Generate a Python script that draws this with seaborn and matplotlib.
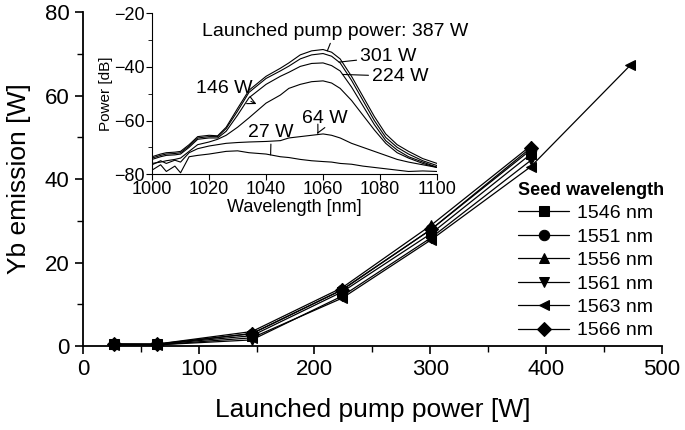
import numpy as np
import pandas as pd
import matplotlib
matplotlib.use("Agg")
import matplotlib.pyplot as plt
from matplotlib.ticker import MultipleLocator
import seaborn as sns

sns.set_style("ticks")
plt.rcParams["font.family"] = ["Liberation Sans", "DejaVu Sans"]
plt.rcParams.update({"text.color": "black", "axes.labelcolor": "black",
                     "xtick.color": "black", "ytick.color": "black",
                     "axes.edgecolor": "black"})

# main plot: Yb emission vs launched pump power, one series per seed wavelength
pump = [27, 64, 146, 224, 301, 387]
seeds = ["1546 nm", "1551 nm", "1556 nm", "1561 nm", "1563 nm", "1566 nm"]
markers = ["s", "o", "^", "v", "<", "D"]
yb_1546 = [0.4, 0.4, 2.5, 13.0, 27.0, 46.0]
yb_1551 = [0.5, 0.4, 3.0, 13.5, 28.0, 47.0]
yb_1556 = [0.5, 0.5, 3.5, 14.0, 29.0, 48.0]
yb_1561 = [0.3, 0.3, 1.5, 12.0, 26.0, 44.5]
yb_1563 = [0.3, 0.3, 2.0, 11.5, 25.5, 43.0]
yb_1566 = [0.5, 0.5, 3.0, 13.5, 28.0, 47.5]
extra_pump_1563 = 473
extra_yb_1563 = 67.3

# inset: spectra at several launched pump powers
wl = [1000, 1003, 1005, 1008, 1010, 1013, 1016, 1020, 1023, 1026, 1030, 1034, 1040, 1045, 1048,
      1052, 1056, 1060, 1063, 1066, 1070, 1074, 1078, 1082, 1086, 1090, 1095, 1100]
sp_387 = [-73.5, -72.5, -72.0, -71.8, -71.5, -69.0, -66.0, -65.5, -65.7, -62.5, -55.5, -48.7, -43.5, -40.5, -38.5,
          -35.5, -34.0, -33.5, -34.5, -37.0, -43.5, -51.0, -58.5, -65.0, -69.0, -71.5, -74.2, -76.0]
sp_301 = [-74.0, -73.0, -72.5, -72.3, -72.0, -69.5, -66.5, -66.0, -66.0, -63.0, -56.5, -49.5, -44.3, -41.5, -39.7,
          -37.0, -35.5, -35.0, -36.0, -38.5, -45.0, -52.5, -60.0, -66.3, -70.0, -72.5, -75.0, -76.8]
sp_224 = [-74.5, -73.5, -73.0, -72.8, -72.5, -70.0, -67.0, -66.5, -66.5, -64.0, -58.0, -51.5, -46.5, -43.5, -42.0,
          -39.8, -38.7, -38.5, -39.5, -41.5, -47.5, -54.5, -61.5, -67.5, -71.0, -73.5, -75.5, -77.4]
sp_146 = [-76.0, -75.5, -75.0, -74.5, -74.0, -71.5, -69.0, -68.0, -67.0, -65.5, -62.5, -59.0, -53.5, -50.5, -48.0,
          -46.5, -45.5, -45.2, -46.0, -48.0, -52.5, -58.0, -63.5, -68.5, -72.0, -74.0, -76.0, -77.5]
sp_64 = [-76.5, -75.0, -76.0, -74.8, -75.5, -72.0, -70.5, -69.5, -69.0, -68.5, -68.2, -68.0, -67.8, -67.5, -66.5,
         -66.0, -65.5, -65.0, -65.5, -66.5, -68.5, -70.0, -71.5, -73.0, -74.5, -75.5, -76.5, -77.5]
sp_27 = [-78.5, -76.5, -79.0, -77.0, -79.5, -73.5, -73.0, -72.5, -72.0, -71.5, -71.3, -72.0, -72.5, -73.5, -73.8,
         -74.5, -75.0, -75.3, -75.5, -76.0, -76.3, -77.0, -77.5, -78.0, -78.5, -79.0, -78.8, -79.0]

fig = plt.figure(figsize=(6.85, 4.3), dpi=100)
ax = fig.add_axes([0.121, 0.195, 0.845, 0.777])

series = [yb_1546, yb_1551, yb_1556, yb_1561, yb_1563, yb_1566]
for name, m, vals in zip(seeds, markers, series):
    xs = list(pump)
    ys = list(vals)
    if name == "1563 nm":
        xs.append(extra_pump_1563)
        ys.append(extra_yb_1563)
    sns.lineplot(x=xs, y=ys, ax=ax, color="black", lw=0.9, marker=m,
                 markersize=7.5, markeredgecolor="black", label=name, clip_on=False)

ax.set_xlim(0, 500)
ax.set_ylim(0, 80)
ax.xaxis.set_major_locator(MultipleLocator(100))
ax.xaxis.set_minor_locator(MultipleLocator(50))
ax.yaxis.set_major_locator(MultipleLocator(20))
ax.yaxis.set_minor_locator(MultipleLocator(10))
ax.tick_params(which="major", length=6, width=1.2, labelsize=16, direction="out")
ax.tick_params(which="minor", length=4, width=1.0, direction="out")
ax.set_xlabel("Launched pump power [W]", fontsize=19, labelpad=13)
ax.set_ylabel("Yb emission [W]", fontsize=19, labelpad=10)
for s in ["left", "bottom"]:
    ax.spines[s].set_linewidth(1.3)
sns.despine(ax=ax)

leg = ax.legend(title="Seed wavelength", frameon=False, fontsize=14,
                loc="lower right", bbox_to_anchor=(1.025, -0.015),
                handlelength=2.6, labelspacing=0.3, handletextpad=0.4,
                borderaxespad=0.2)
leg.get_title().set_fontsize(13)
leg.get_title().set_fontweight("bold")
leg._legend_box.align = "left"

# inset
ax_in = fig.add_axes([0.222, 0.595, 0.416, 0.374])
spectra = [sp_387, sp_301, sp_224, sp_146, sp_64, sp_27]
for sp in spectra:
    sns.lineplot(x=wl, y=sp, ax=ax_in, color="black", lw=0.8)
ax_in.set_xlim(1000, 1100)
ax_in.set_ylim(-80, -20)
ax_in.xaxis.set_major_locator(MultipleLocator(20))
ax_in.yaxis.set_major_locator(MultipleLocator(20))
ax_in.yaxis.set_minor_locator(MultipleLocator(10))
ax_in.tick_params(which="major", length=4, labelsize=13, pad=1)
ax_in.tick_params(which="minor", length=3)
ax_in.set_xlabel("Wavelength [nm]", fontsize=13, labelpad=1)
ax_in.set_ylabel("Power [dB]", fontsize=11, labelpad=1)
ax_in.patch.set_alpha(0)
sns.despine(ax=ax_in)

ann = dict(fontsize=14, ha="center", va="center", annotation_clip=False)
line = dict(arrowstyle="-", color="black", lw=0.8, shrinkA=0, shrinkB=0)
ax_in.annotate("Launched pump power: 387 W", xy=(1061.5, -34.0), xytext=(1064.2, -26.8),
               arrowprops=line, **ann)
ax_in.annotate("301 W", xy=(1065.6, -38.2), xytext=(1082.8, -36.2),
               arrowprops=line, **ann)
ax_in.annotate("224 W", xy=(1066.8, -42.8), xytext=(1087.0, -43.5),
               arrowprops=line, **ann)
ax_in.annotate("146 W", xy=(1037.5, -54.3), xytext=(1025.3, -48.0),
               arrowprops=dict(arrowstyle="->", color="black", lw=0.8), **ann)
ax_in.annotate("64 W", xy=(1058.0, -65.0), xytext=(1060.7, -59.2),
               arrowprops=dict(arrowstyle="->", color="black", lw=0.8), **ann)
ax_in.annotate("27 W", xy=(1041.6, -72.8), xytext=(1041.8, -64.4),
               arrowprops=line, **ann)

fig.savefig("out.png", dpi=100)
